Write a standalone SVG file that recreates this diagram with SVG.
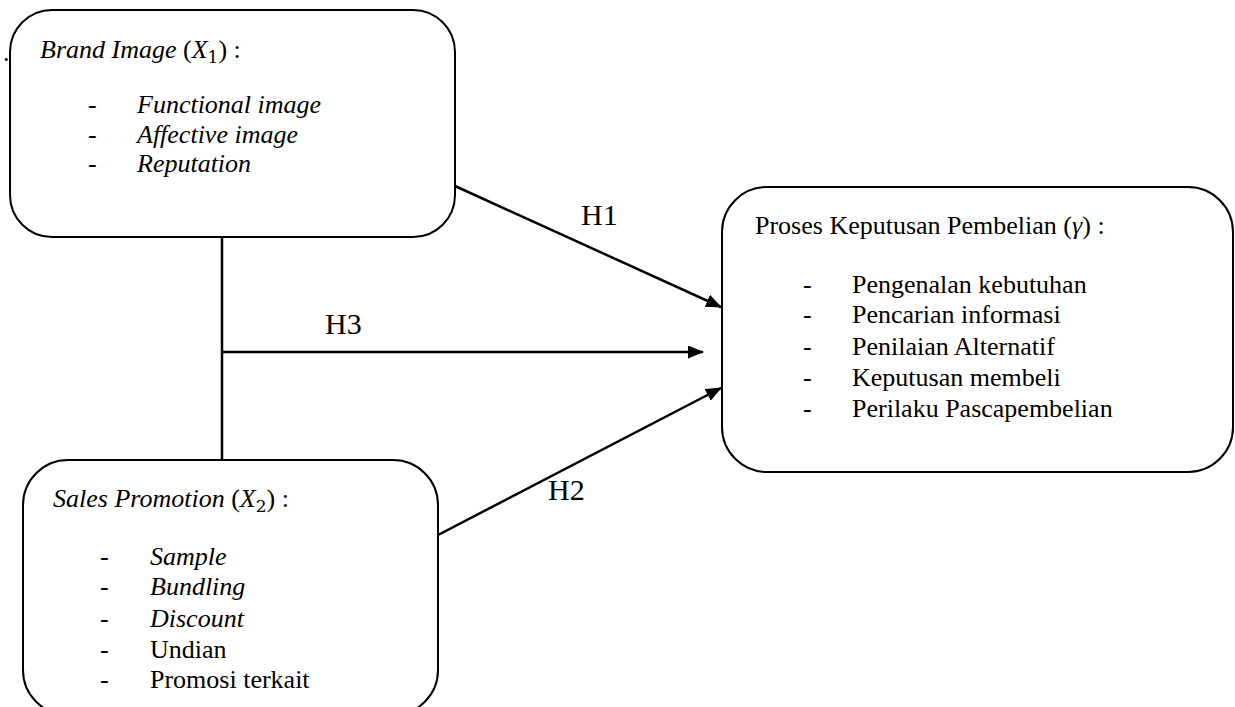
<svg xmlns="http://www.w3.org/2000/svg" width="1235" height="707" viewBox="0 0 1235 707">
<style>
.box{fill:#fff;stroke:#000;stroke-width:2}
.t{font-family:"Liberation Serif","Times New Roman",serif;font-size:26px;fill:#000}
.i{font-style:italic}
.h{font-family:"Liberation Serif","Times New Roman",serif;font-size:30px;fill:#000}
.sub{font-size:17px;font-style:normal;font-family:"DejaVu Serif","Liberation Serif",serif}
.ln{stroke:#000;stroke-width:2.5;fill:none}
</style>
<defs>
<marker id="arr" markerWidth="10" markerHeight="8" refX="9" refY="4" orient="auto" markerUnits="userSpaceOnUse" viewBox="0 0 10 8">
<path d="M0,0 L10,4 L0,8 Z" fill="#000"/>
</marker>
<marker id="arrL" markerWidth="16" markerHeight="13" refX="15" refY="6.5" orient="auto" markerUnits="userSpaceOnUse" viewBox="0 0 16 13">
<path d="M0,0 L16,6.5 L0,13 Z" fill="#000"/>
</marker>
</defs>
<rect width="1235" height="707" fill="#fff"/>
<text class="t" x="3" y="61">.</text>
<g id="connectors">
<line class="ln" x1="222" y1="237" x2="222" y2="460"/>
<line class="ln" x1="222" y1="352" x2="703" y2="352" marker-end="url(#arrL)"/>
<line class="ln" x1="455" y1="186" x2="721" y2="307" marker-end="url(#arrL)"/>
<line class="ln" x1="438" y1="535" x2="721" y2="388" marker-end="url(#arrL)"/>
<text class="h" x="581" y="225">H1</text>
<text class="h" x="325" y="334">H3</text>
<text class="h" x="548" y="500">H2</text>
</g>
<g id="brand-image">
<rect class="box" x="10" y="10" width="445" height="227" rx="42" ry="42"/>
<text class="t" x="40" y="58"><tspan class="i">Brand Image</tspan>  (<tspan class="i">X</tspan><tspan class="sub" dy="5">1</tspan><tspan dy="-5">) :</tspan></text>
<text class="t" x="88" y="113">-</text><text class="t i" x="137" y="113">Functional image</text>
<text class="t" x="88" y="143">-</text><text class="t i" x="137" y="143">Affective image</text>
<text class="t" x="88" y="172">-</text><text class="t i" x="137" y="172">Reputation</text>
</g>
<g id="sales-promotion">
<rect class="box" x="23" y="460" width="415" height="255" rx="45" ry="45"/>
<text class="t" x="53" y="507"><tspan class="i">Sales Promotion</tspan> (<tspan class="i">X</tspan><tspan class="sub" dy="5">2</tspan><tspan dy="-5">) :</tspan></text>
<text class="t" x="100" y="565">-</text><text class="t i" x="150" y="565">Sample</text>
<text class="t" x="100" y="595">-</text><text class="t i" x="150" y="595">Bundling</text>
<text class="t" x="100" y="627">-</text><text class="t i" x="150" y="627">Discount</text>
<text class="t" x="100" y="658">-</text><text class="t" x="150" y="658">Undian</text>
<text class="t" x="100" y="688">-</text><text class="t" x="150" y="688">Promosi terkait</text>
</g>
<g id="keputusan">
<rect class="box" x="722" y="187" width="511" height="285" rx="45" ry="45"/>
<text class="t" x="755" y="234">Proses Keputusan Pembelian (<tspan class="i">γ</tspan>) :</text>
<text class="t" x="803" y="293">-</text><text class="t" x="852" y="293">Pengenalan kebutuhan</text>
<text class="t" x="803" y="323">-</text><text class="t" x="852" y="323">Pencarian informasi</text>
<text class="t" x="803" y="355">-</text><text class="t" x="852" y="355">Penilaian Alternatif</text>
<text class="t" x="803" y="386">-</text><text class="t" x="852" y="386">Keputusan membeli</text>
<text class="t" x="803" y="417">-</text><text class="t" x="852" y="417">Perilaku Pascapembelian</text>
</g>
</svg>
